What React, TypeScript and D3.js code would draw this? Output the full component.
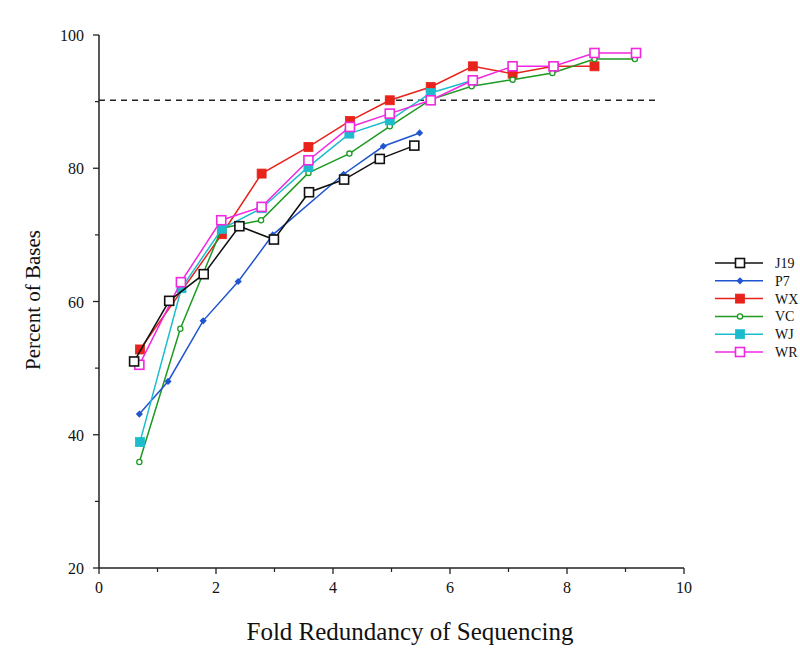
import React from "react";
import * as d3 from "d3";

const xTicks = [0, 2, 4, 6, 8, 10];
const yTicks = [20, 40, 60, 80, 100];
const xMinor = [1, 3, 5, 7, 9];
const yMinor = [30, 50, 70, 90];

const j19X = [0.6, 1.2, 1.79, 2.4, 2.99, 3.59, 4.19, 4.8, 5.39];
const j19Y = [51.0, 60.1, 64.1, 71.3, 69.3, 76.4, 78.3, 81.4, 83.4];
const p7X = [0.69, 1.18, 1.78, 2.38, 2.97, 4.18, 4.86, 5.48];
const p7Y = [43.1, 48.0, 57.1, 63.0, 70.0, 79.1, 83.3, 85.3];
const wxX = [0.7, 2.1, 2.78, 3.58, 4.29, 4.97, 5.67, 6.39, 7.07, 7.77, 8.47];
const wxY = [52.8, 70.1, 79.2, 83.2, 87.1, 90.2, 92.2, 95.3, 94.2, 95.3, 95.3];
const vcX = [0.69, 1.39, 2.1, 2.77, 3.58, 4.28, 4.97, 5.67, 6.37, 7.07, 7.75, 8.47, 9.16];
const vcY = [35.9, 55.9, 71.0, 72.2, 79.3, 82.2, 86.3, 90.3, 92.3, 93.3, 94.3, 96.4, 96.4];
const wjX = [0.7, 1.41, 2.1, 2.78, 3.58, 4.28, 4.97, 5.67, 6.39];
const wjY = [38.9, 62.0, 70.9, 74.0, 80.2, 85.2, 87.2, 91.3, 93.2];
const wrX = [0.69, 1.4, 2.09, 2.78, 3.58, 4.29, 4.97, 5.67, 6.39, 7.07, 7.77, 8.47, 9.18];
const wrY = [50.5, 62.9, 72.2, 74.2, 81.2, 86.2, 88.2, 90.2, 93.2, 95.3, 95.3, 97.3, 97.3];

const thresholdY = 90.2;
const thresholdXEnd = 9.55;

type Marker = "openSquare" | "diamond" | "filledSquare" | "openCircle";
interface Series {
  name: string;
  xs: number[];
  ys: number[];
  color: string;
  marker: Marker;
}

const legendSeries: Series[] = [
  { name: "J19", xs: j19X, ys: j19Y, color: "#111111", marker: "openSquare" },
  { name: "P7", xs: p7X, ys: p7Y, color: "#1f55d0", marker: "diamond" },
  { name: "WX", xs: wxX, ys: wxY, color: "#e8231c", marker: "filledSquare" },
  { name: "VC", xs: vcX, ys: vcY, color: "#1c9a22", marker: "openCircle" },
  { name: "WJ", xs: wjX, ys: wjY, color: "#1dbccc", marker: "filledSquare" },
  { name: "WR", xs: wrX, ys: wrY, color: "#f028e0", marker: "openSquare" },
];

const drawOrder = ["WX", "VC", "P7", "WJ", "WR", "J19"];

function MarkerShape({ m, x, y, color }: { m: Marker; x: number; y: number; color: string }) {
  if (m === "openSquare")
    return <rect x={x - 4.5} y={y - 4.5} width={9} height={9} fill="#fff" stroke={color} strokeWidth={1.6} />;
  if (m === "filledSquare")
    return <rect x={x - 4.5} y={y - 4.5} width={9} height={9} fill={color} stroke={color} strokeWidth={0.8} />;
  if (m === "diamond")
    return <path d={`M${x},${y - 3.6}L${x + 3.6},${y}L${x},${y + 3.6}L${x - 3.6},${y}Z`} fill={color} />;
  return <circle cx={x} cy={y} r={2.6} fill="#fff" stroke={color} strokeWidth={1.3} />;
}

export default function App() {
  const W = 800, H = 654;
  const x = d3.scaleLinear().domain([0, 10]).range([99, 684]);
  const y = d3.scaleLinear().domain([20, 100]).range([568, 35]);
  const line = d3.line<[number, number]>().x((d) => x(d[0])).y((d) => y(d[1]));
  const font = "'Liberation Serif', 'Times New Roman', serif";
  const ordered = drawOrder.map((n) => legendSeries.find((s) => s.name === n)!);
  const legX0 = 715, legX1 = 763, legMid = 740, legTextX = 775;
  const legY0 = 263, legStep = 17.8;

  return (
    <svg width={W} height={H} style={{ position: "absolute", left: 0, top: 0, background: "#fff" }} fontFamily={font}>
      <rect x={0} y={0} width={W} height={H} fill="#fff" />
      {/* axes */}
      <line x1={x(0)} x2={x(0)} y1={y(100)} y2={y(20)} stroke="#222" strokeWidth={1.5} />
      <line x1={x(0)} x2={x(10)} y1={y(20)} y2={y(20)} stroke="#222" strokeWidth={1.5} />
      {yTicks.map((t) => (
        <g key={"yt" + t}>
          <line x1={x(0) - 6} x2={x(0)} y1={y(t)} y2={y(t)} stroke="#222" strokeWidth={1.3} />
          <text x={x(0) - 15} y={y(t) + 6} textAnchor="end" fontSize={16} fill="#111">{t}</text>
        </g>
      ))}
      {yMinor.map((t) => (
        <line key={"ym" + t} x1={x(0) - 4} x2={x(0)} y1={y(t)} y2={y(t)} stroke="#222" strokeWidth={1.2} />
      ))}
      {xTicks.map((t) => (
        <g key={"xt" + t}>
          <line x1={x(t)} x2={x(t)} y1={y(20)} y2={y(20) + 6} stroke="#222" strokeWidth={1.3} />
          <text x={x(t)} y={y(20) + 25} textAnchor="middle" fontSize={16} fill="#111">{t}</text>
        </g>
      ))}
      {xMinor.map((t) => (
        <line key={"xm" + t} x1={x(t)} x2={x(t)} y1={y(20)} y2={y(20) + 4} stroke="#222" strokeWidth={1.2} />
      ))}
      {/* threshold */}
      <line x1={x(0)} x2={x(thresholdXEnd)} y1={y(thresholdY)} y2={y(thresholdY)} stroke="#222" strokeWidth={1.5} strokeDasharray="6,5" />
      {/* series */}
      {ordered.map((s) => {
        const pts: [number, number][] = s.xs.map((v, i) => [v, s.ys[i]]);
        return (
          <g key={s.name}>
            <path d={line(pts) || ""} fill="none" stroke={s.color} strokeWidth={1.5} />
            {pts.map((p, i) => (
              <MarkerShape key={i} m={s.marker} x={x(p[0])} y={y(p[1])} color={s.color} />
            ))}
          </g>
        );
      })}
      {/* legend */}
      {legendSeries.map((s, i) => {
        const ly = legY0 + i * legStep;
        return (
          <g key={"leg" + s.name}>
            <line x1={legX0} x2={legX1} y1={ly} y2={ly} stroke={s.color} strokeWidth={1.5} />
            <MarkerShape m={s.marker} x={legMid} y={ly} color={s.color} />
            <text x={legTextX} y={ly + 5} fontSize={14} fill="#111">{s.name}</text>
          </g>
        );
      })}
      {/* axis titles */}
      <text transform={`translate(40,${300}) rotate(-90)`} textAnchor="middle" fontSize={21} fill="#111">Percent of Bases</text>
      <text x={410} y={640} textAnchor="middle" fontSize={25} fill="#111">Fold Redundancy of Sequencing</text>
    </svg>
  );
}
